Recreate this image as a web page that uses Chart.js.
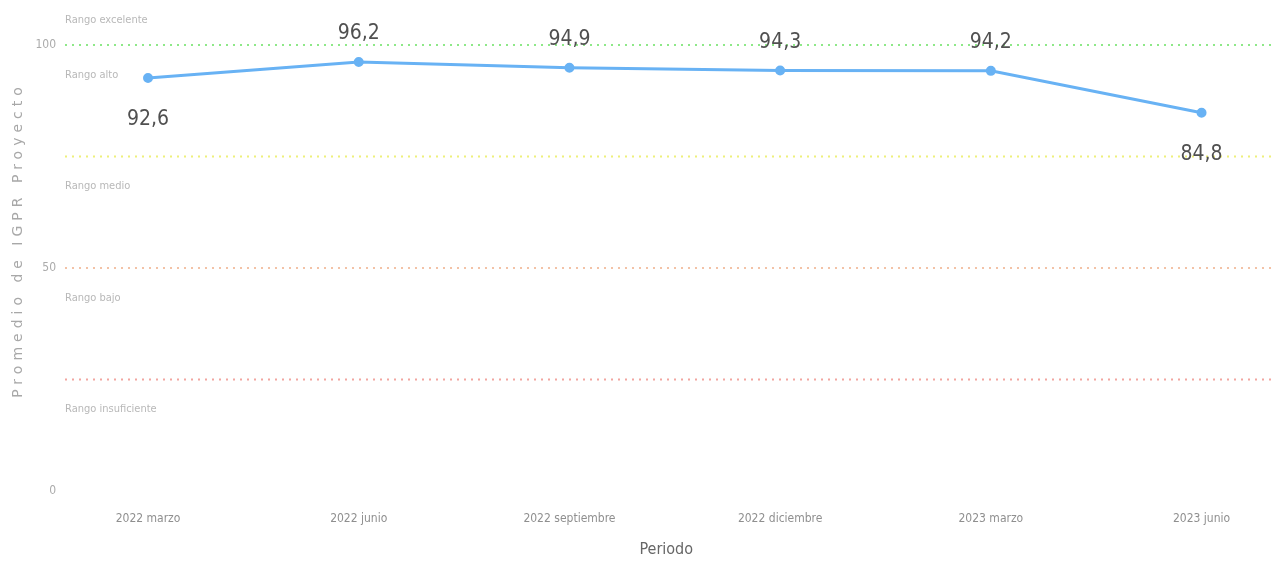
<!DOCTYPE html>
<html>
<head>
<meta charset="utf-8">
<script src="https://cdn.jsdelivr.net/npm/chart.js@4.4.0/dist/chart.umd.min.js"></script>
<style>
  html, body { margin: 0; padding: 0; background: #fff; }
  #wrap { width: 1274px; height: 563px; }
</style>
</head>
<body>
<div id="wrap"><canvas id="myChart" width="1274" height="563"></canvas></div>
<script>
// DATA ----------------------------------------
const periodos = ['2022 marzo', '2022 junio', '2022 septiembre', '2022 diciembre', '2023 marzo', '2023 junio'];
const promedio = [92.6, 96.2, 94.9, 94.3, 94.2, 84.8];   // Promedio de IGPR Proyecto
const yTicks = [0, 50, 100];
const rangoLimites = [100, 75, 50, 25];
const rangoNombres = ['Rango excelente', 'Rango alto', 'Rango medio', 'Rango bajo', 'Rango insuficiente'];
const rangoColores = ['#8ee888', '#eef07a', '#f3c2a6', '#f2a5a0'];

const fontFam = "'Liberation Sans Narrow', 'DejaVu Sans Condensed', 'Open Sans', sans-serif";

//formato con coma decimal
const fmt = (v) => v.toFixed(1).replace('.', ',');

// lineas de rangos + textos
const rangos = {
    id: 'rangos',
    beforeDatasetsDraw(chart) {
        const c = chart.ctx, y = chart.scales.y, a = chart.chartArea;
        c.save();
        c.lineWidth = 2;
        c.setLineDash([2, 5]);
        rangoLimites.forEach((lim, i) => {
            const py = y.getPixelForValue(lim);
            c.strokeStyle = rangoColores[i];
            c.beginPath();
            c.moveTo(a.left, py);
            c.lineTo(chart.width, py);
            c.stroke();
        });
        c.setLineDash([]);
        c.fillStyle = '#b8b8b8';
        c.font = "11px " + fontFam;
        c.textBaseline = 'middle';
        c.textAlign = 'left';
        // excelente arriba de la linea 100, el resto bajo cada linea
        c.fillText(rangoNombres[0], a.left, y.getPixelForValue(rangoLimites[0]) - 25);
        rangoLimites.forEach((lim, i) => {
            c.fillText(rangoNombres[i + 1], a.left, y.getPixelForValue(lim) + 30);
        });
        // titulo eje y con espaciado
        c.save();
        c.translate(18, 240);
        c.rotate(-Math.PI / 2);
        c.textAlign = 'center';
        c.fillStyle = '#a8a8a8';
        c.font = "14px 'DejaVu Sans', sans-serif";
        c.letterSpacing = '5px';
        c.fillText('Promedio de IGPR Proyecto', 0, 0);
        c.restore();
        c.restore();
    },
    afterDatasetsDraw(chart) {
        const c = chart.ctx, meta = chart.getDatasetMeta(0);
        c.save();
        c.fillStyle = '#505050';
        c.font = "21px " + fontFam;
        c.textAlign = 'center';
        c.textBaseline = 'middle';
        meta.data.forEach((pt, i) => {
            const v = promedio[i];
            const dy = v < 93 ? 42 : -28;
            c.fillText(fmt(v), pt.x, pt.y + dy);
        });
        c.restore();
    }
};

const config = {
    type: 'line',
    data: {
        datasets: [{
            label: 'Promedio de IGPR Proyecto',
            data: promedio.map((v, i) => ({x: i, y: v})),
            borderColor: '#68b2f4',
            backgroundColor: '#68b2f4',
            borderWidth: 3,
            pointRadius: 3.5,
            pointHoverRadius: 3.5,
            tension: 0
        }]
    },
    options: {
        responsive: false,
        animation: false,
        layout: { padding: { top: 45, right: 0, left: 0, bottom: 0 } },
        plugins: {
            legend: { display: false },
            tooltip: { enabled: false }
        },
        scales: {
            x: {
                type: 'linear',
                min: -0.394,
                max: 5.313,
                grid: { display: false, drawTicks: false },
                border: { display: false },
                afterBuildTicks: (s) => { s.ticks = periodos.map((p, i) => ({value: i})); },
                afterFit: (s) => { s.height = 72; },
                ticks: {
                    padding: 21,
                    color: '#8f8f8f',
                    font: { family: fontFam, size: 12 },
                    maxRotation: 0,
                    autoSkip: false,
                    callback: (v) => periodos[v]
                },
                title: {
                    display: true,
                    text: 'Periodo',
                    color: '#666',
                    font: { family: fontFam, size: 16 },
                    padding: { top: 0, bottom: 4 }
                }
            },
            y: {
                min: 0,
                max: 100,
                grid: { display: false, drawTicks: false },
                border: { display: false },
                afterBuildTicks: (s) => { s.ticks = yTicks.map(v => ({value: v})); },
                afterFit: (s) => { s.width = 65; },
                ticks: {
                    padding: 9,
                    color: '#ababab',
                    font: { family: fontFam, size: 12 }
                }
            }
        }
    },
    plugins: [rangos]
};

const chart = new Chart(document.getElementById('myChart'), config);
</script>
</body>
</html>
